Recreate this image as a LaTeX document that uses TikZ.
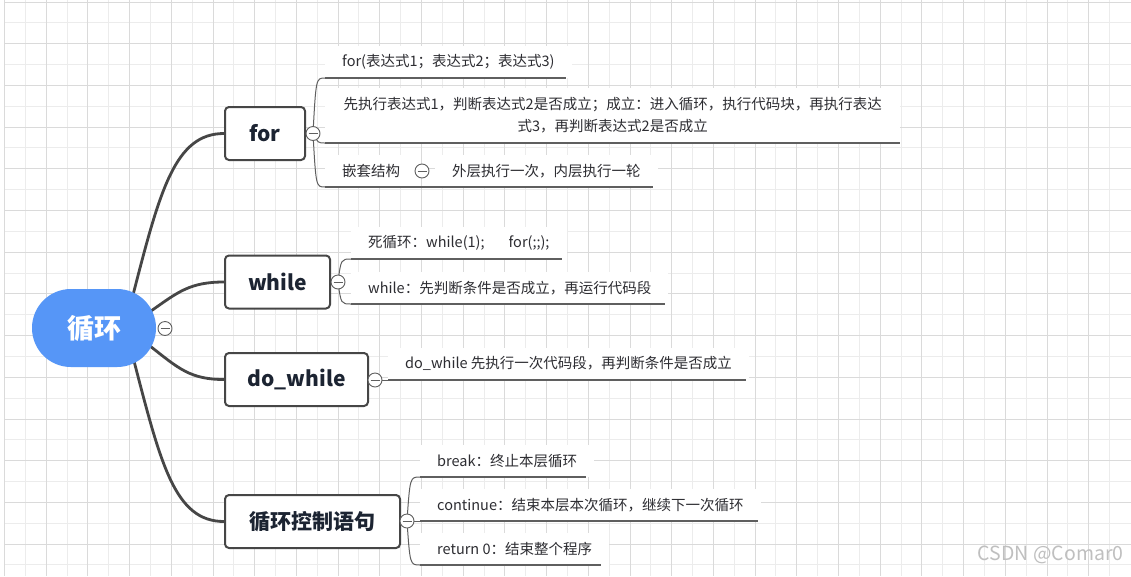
\documentclass[tikz,border=0pt]{standalone}
\usepackage{fontspec}
\setmainfont{Noto Sans CJK SC}
\usetikzlibrary{calc}
\definecolor{rootblue}{RGB}{86,150,247}
\definecolor{gridlight}{RGB}{236,236,236}
\definecolor{griddark}{RGB}{218,218,218}
\definecolor{branch}{RGB}{70,70,70}
\definecolor{subl}{RGB}{95,95,95}
\definecolor{txt}{RGB}{45,45,50}
\definecolor{boxtxt}{RGB}{28,36,50}
\tikzset{
  rootnode/.style={fill=rootblue, rounded corners=38.9pt, minimum width=124pt, minimum height=78pt, text=white, inner sep=0pt, font=\bfseries\fontsize{27}{30}\selectfont},
  topic/.style={draw=branch, line width=2pt, rounded corners=4pt, fill=white, minimum height=53pt, inner sep=0pt, text=boxtxt, font=\bfseries\fontsize{21}{25}\selectfont, anchor=west},
  mainline/.style={draw=branch, line width=2.8pt, line cap=round},
  subline/.style={draw=subl, line width=1pt},
  uline/.style={draw=subl, line width=1.2pt},
  collapse/.style={circle, draw=subl, fill=white, line width=0.9pt, minimum size=14pt, inner sep=0pt,
    path picture={\draw[subl, line width=0.9pt] ([xshift=-4.5pt]path picture bounding box.center) -- ([xshift=4.5pt]path picture bounding box.center);}},
  item/.style={fill=white, anchor=south west, inner xsep=17pt, inner ysep=0pt, minimum height=32pt, text=txt, font=\fontsize{14.5}{22}\selectfont},
}
\begin{document}
\begin{tikzpicture}[x=1pt,y=-1pt]
\useasboundingbox (0,0) rectangle (1131,576);
\fill[white] (0,0) rectangle (1131,576);
% grid
\foreach \k in {0,...,26} { \draw[gridlight, line width=1pt] ({25.35+41.7*\k},0) -- ({25.35+41.7*\k},576); }
\foreach \k in {0,...,13} { \draw[gridlight, line width=1pt] (4.5,{22.85+41.7*\k}) -- (1131,{22.85+41.7*\k}); }
\foreach \k in {0,...,26} { \draw[griddark, line width=1pt] ({4.5+41.7*\k},0) -- ({4.5+41.7*\k},576); }
\foreach \k in {0,...,13} { \draw[griddark, line width=1pt] (4.5,{2+41.7*\k}) -- (1131,{2+41.7*\k}); }

% main topics
\node[topic, minimum width=80pt] (for) at (224,133.5) {for};
\node[topic, minimum width=105pt] (while) at (224,282) {while};
\node[topic, minimum width=143pt] (dowhile) at (224,379.5) {do\_while};
\node[topic, minimum width=175pt] (ctrl) at (224,521.5) {循环控制语句};

% branch start points on root
\coordinate (r1) at (133,295);
\coordinate (r2) at (151,311);
\coordinate (r3) at (150,346);
\coordinate (r4) at (134,361);

\draw[mainline] (r1) .. controls (160,190) and (175,133.5) .. (for.west);
\draw[mainline] (r2) .. controls (178,292) and (190,282) .. (while.west);
\draw[mainline] (r3) .. controls (178,368) and (190,379.5) .. (dowhile.west);
\draw[mainline] (r4) .. controls (161,465) and (175,521.5) .. (ctrl.west);

\node[rootnode] (root) at (94,328) {循环};
\node[collapse] (cr) at (165,328.5) {};

% for children
\node[item] (f1) at (325,78) {for(表达式1；表达式2；表达式3)};
\node[item, minimum width=575pt, minimum height=55pt, align=center] (f2) at (325,143) {先执行表达式1，判断表达式2是否成立；成立：进入循环，执行代码块，再执行表达\\式3，再判断表达式2是否成立};
\node[item] (f3a) at (325,187) {嵌套结构};
\node[item] (f3b) at (435,187) {外层执行一次，内层执行一轮};
\coordinate (cfc) at (313,133.5);
\draw[subline] (cfc) .. controls (316,78) .. (f1.south west);
\draw[subline] (cfc) .. controls (318,143) .. (f2.south west);
\draw[subline] (cfc) .. controls (316,187) .. (f3a.south west);
\draw[uline] (f1.south west) -- ([xshift=-6pt]f1.south east);
\draw[uline] (f2.south west) -- (f2.south east);
\draw[uline] (f3a.south west) -- ([xshift=-5pt]f3b.south east);
\node[collapse] (cf) at (cfc) {};
\node[collapse] (cn) at (422,171) {};

% while children
\node[item] (w1) at (351,259) {死循环：while(1);\hspace{24pt}for(;;);};
\node[item] (w2) at (351,304) {while：先判断条件是否成立，再运行代码段};
\coordinate (cwc) at (338,282);
\draw[subline] (cwc) .. controls (341,259) .. (w1.south west);
\draw[subline] (cwc) .. controls (341,304) .. (w2.south west);
\draw[uline] (w1.south west) -- ([xshift=-5pt]w1.south east);
\draw[uline] (w2.south west) -- ([xshift=-3pt]w2.south east);
\node[collapse] (cw) at (cwc) {};

% do_while children
\node[item] (d1) at (388,380) {do\_while 先执行一次代码段，再判断条件是否成立};
\coordinate (cdc) at (375,380);
\draw[subline] (cdc) -- (d1.south west);
\draw[uline] (d1.south west) -- ([xshift=-3pt]d1.south east);
\node[collapse] (cd) at (cdc) {};

% control children
\node[item] (c1) at (420,477) {break：终止本层循环};
\node[item] (c2) at (420,521) {continue：结束本层本次循环，继续下一次循环};
\node[item] (c3) at (420,565) {return 0：结束整个程序};
\coordinate (ccc) at (407,521);
\draw[subline] (ccc) .. controls (410,477) .. (c1.south west);
\draw[subline] (ccc) -- (c2.south west);
\draw[subline] (ccc) .. controls (410,565) .. (c3.south west);
\draw[uline] (c1.south west) -- ([xshift=-8pt]c1.south east);
\draw[uline] (c2.south west) -- ([xshift=-3pt]c2.south east);
\draw[uline] (c3.south west) -- ([xshift=-8pt]c3.south east);
\node[collapse] (cc) at (ccc) {};

% watermark
\node[text=black!25, font=\fontsize{19.5}{22}\selectfont, anchor=east] (wm) at (1127,555) {CSDN @Comar0};
\end{tikzpicture}
\end{document}
